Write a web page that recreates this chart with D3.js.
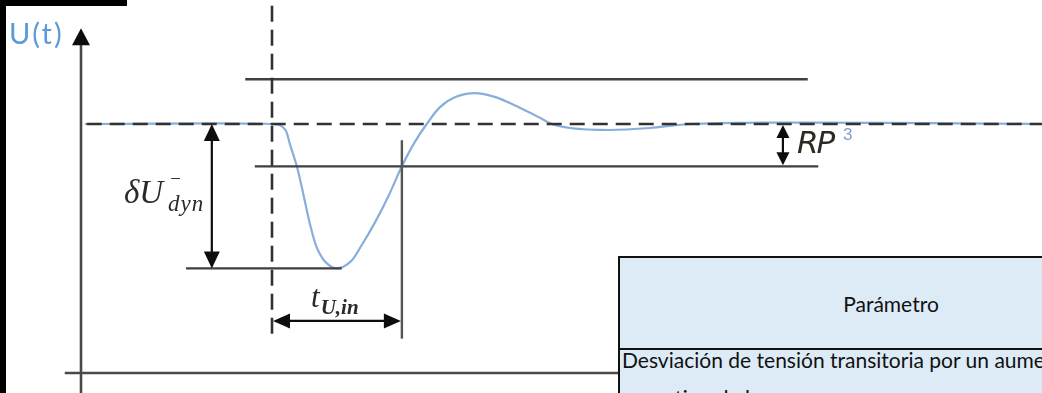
<!DOCTYPE html>
<html>
<head>
<meta charset="utf-8">
<script src="https://cdn.jsdelivr.net/npm/d3@7"></script>
<style>
  html, body { margin: 0; padding: 0; background: #fff; overflow: hidden; }
  svg { display: block; }
</style>
</head>
<body>
<svg id="chart" width="1042" height="393"></svg>
<script>
// Voltage response U(t) to a sudden load step (time in arbitrary units, U in % of nominal)
const curveT = [0.4, 20, 20.8, 21.4, 21.9, 22.6, 23.3, 24.0, 24.8, 25.8, 26.8, 28.2, 29.4, 30.8, 32.2, 33.6, 34.9, 36.2, 37.6, 39.2, 41.2, 43.4, 46.0, 48.1, 49.3, 51.2, 55.4, 59.6, 63.8, 101];
const curveU = [100, 100, 99.6, 97.6, 91.6, 83, 71.5, 59.4, 49.4, 43.8, 42, 44.6, 51.4, 60.6, 71.1, 83, 92.4, 100, 106.8, 110.8, 112.4, 110.8, 106.4, 102.4, 100, 98.4, 97.6, 98.4, 100, 100];

// Reference levels
const nominalU = 100;
const upperBandU = 118;
const lowerBandU = 83;
const minU = 42;
const stepT = 20;
const recoveryT = 33.6;

// Extents of the helper lines [t0, t1] or [U0, U1]
const nominalSpan = [0.6, 101];
const upperBandSpan = [17.2, 76.1];
const lowerBandSpan = [18.2, 77.2];
const minSpan = [11.0, 27.3];
const stepSpan = [147.5, 14.5];
const recoverySpan = [93.5, 13.8];
const yAxisSpan = [138.5, -8.5];
const xAxisSpan = [-1.7, 101];

// Dimension arrows
const dUArrowT = 13.7;
const tArrowU = 20.9;
const rpArrowT = 73.5;

// Table text
const tableHeader = ["Parámetro"];
const tableRow = ["Desviación de tensión transitoria por un aumento", "repentino de la carga"];

const svg = d3.select("#chart");
const x = d3.scaleLinear().domain([0, 100]).range([81, 1036]);
const y = d3.scaleLinear().domain([0, 100]).range([373, 124]);

const defs = svg.append("defs");
defs.append("filter").attr("id", "soft")
  .append("feGaussianBlur").attr("stdDeviation", 0.45);

const g = svg.append("g").attr("filter", "url(#soft)");

const lineCol = "#3f3f3f";

// Blue response curve (drawn first so dashed reference sits on top)
const line = d3.line().x((d, i) => x(curveT[i])).y((d, i) => y(curveU[i])).curve(d3.curveCatmullRom.alpha(0.5));
g.append("path").datum(curveU).attr("d", line)
  .attr("fill", "none").attr("stroke", "#88aedb").attr("stroke-width", 2.2);

// Axes
g.append("line").attr("x1", x(0)).attr("x2", x(0)).attr("y1", y(yAxisSpan[0]) + 14).attr("y2", y(yAxisSpan[1]))
  .attr("stroke", "#4a4a4a").attr("stroke-width", 2.6);
g.append("line").attr("x1", x(xAxisSpan[0])).attr("x2", x(xAxisSpan[1])).attr("y1", y(0)).attr("y2", y(0))
  .attr("stroke", "#4a4a4a").attr("stroke-width", 2.6);

function head(px, py, dir, len, w) {
  // filled triangle with its tip at (px,py)
  let p;
  if (dir === "up") p = [[px, py], [px - w / 2, py + len], [px + w / 2, py + len]];
  if (dir === "down") p = [[px, py], [px - w / 2, py - len], [px + w / 2, py - len]];
  if (dir === "left") p = [[px, py], [px + len, py - w / 2], [px + len, py + w / 2]];
  if (dir === "right") p = [[px, py], [px - len, py - w / 2], [px - len, py + w / 2]];
  g.append("path").attr("d", "M" + p.map(q => q.join(",")).join("L") + "Z").attr("fill", "#111");
}
head(x(0), y(yAxisSpan[0]), "up", 17, 18);

// Horizontal helper lines
function hline(u, span, w) {
  g.append("line").attr("x1", x(span[0])).attr("x2", x(span[1])).attr("y1", y(u)).attr("y2", y(u))
    .attr("stroke", lineCol).attr("stroke-width", w);
}
hline(upperBandU, upperBandSpan, 2.4);
hline(lowerBandU, lowerBandSpan, 2.4);
hline(minU, minSpan, 2.4);

// Nominal level, dashed
g.append("line").attr("x1", x(nominalSpan[0])).attr("x2", x(nominalSpan[1])).attr("y1", y(nominalU)).attr("y2", y(nominalU))
  .attr("stroke", "#333").attr("stroke-width", 2.6).attr("stroke-dasharray", "15,8");

// Load step instant, dashed vertical
g.append("line").attr("x1", x(stepT)).attr("x2", x(stepT)).attr("y1", y(stepSpan[0])).attr("y2", y(stepSpan[1]))
  .attr("stroke", "#333").attr("stroke-width", 2.6).attr("stroke-dasharray", "16,8");

// Recovery instant
g.append("line").attr("x1", x(recoveryT)).attr("x2", x(recoveryT)).attr("y1", y(recoverySpan[0])).attr("y2", y(recoverySpan[1]))
  .attr("stroke", "#555").attr("stroke-width", 2.4);

// δU arrow
g.append("line").attr("x1", x(dUArrowT)).attr("x2", x(dUArrowT)).attr("y1", y(nominalU) + 10).attr("y2", y(minU) - 10)
  .attr("stroke", "#111").attr("stroke-width", 2.2);
head(x(dUArrowT), y(nominalU), "up", 17, 16);
head(x(dUArrowT), y(minU), "down", 17, 16);

// t arrow
g.append("line").attr("x1", x(stepT) + 10).attr("x2", x(recoveryT) - 10).attr("y1", y(tArrowU)).attr("y2", y(tArrowU))
  .attr("stroke", "#111").attr("stroke-width", 2.2);
head(x(stepT) + 1, y(tArrowU), "left", 17, 15);
head(x(recoveryT) - 1, y(tArrowU), "right", 17, 15);

// RP arrow
g.append("line").attr("x1", x(rpArrowT)).attr("x2", x(rpArrowT)).attr("y1", y(nominalU) + 6).attr("y2", y(lowerBandU) - 6)
  .attr("stroke", "#111").attr("stroke-width", 2.2);
head(x(rpArrowT), y(nominalU) + 1, "up", 13, 13);
head(x(rpArrowT), y(lowerBandU) - 1, "down", 13, 13);

// Labels
g.append("text").attr("x", 9).attr("y", 44).attr("fill", "#5b9bd5").attr("letter-spacing", 2)
  .style("font-family", "Lato, 'Open Sans', sans-serif").style("font-size", "29px").text("U(t)");

const mathFont = "'Liberation Serif', 'DejaVu Serif', serif";
const dU = g.append("text").attr("x", 124).attr("y", 203).attr("fill", "#2b2b2b")
  .style("font-family", mathFont).style("font-style", "italic").style("font-size", "33px");
dU.append("tspan").text("δU");
dU.append("tspan").attr("x", 169).attr("y", 185).style("font-size", "19px").text("−");
dU.append("tspan").attr("x", 168).attr("y", 211).style("font-size", "23px").attr("letter-spacing", 1).text("dyn");

const tl = g.append("text").attr("x", 311).attr("y", 307).attr("fill", "#2b2b2b")
  .style("font-family", mathFont).style("font-style", "italic").style("font-size", "31px");
tl.append("tspan").text("t");
tl.append("tspan").attr("dx", 1).attr("y", 314).style("font-size", "21px").style("font-weight", "bold").text("U,in");

const rp = g.append("text").attr("x", 797).attr("y", 153).attr("fill", "#2e2a22")
  .style("font-family", "'DejaVu Sans', sans-serif").style("font-style", "italic").style("font-size", "31px");
rp.append("tspan").attr("letter-spacing", -2).text("RP");
g.append("text").attr("x", 843).attr("y", 140).attr("fill", "#7f9fc8")
  .style("font-family", "'Liberation Sans', sans-serif").style("font-size", "17px").text("3");

// Table
const tbl = svg.append("g");
tbl.append("rect").attr("x", 619).attr("y", 257).attr("width", 440).attr("height", 150)
  .attr("fill", "#ddebf7").attr("stroke", "#111").attr("stroke-width", 2);
tbl.append("line").attr("x1", 619).attr("x2", 1042).attr("y1", 349).attr("y2", 349)
  .attr("stroke", "#111").attr("stroke-width", 2);
const tFont = "Lato, 'Open Sans', sans-serif";

// size the cell font so the first row reaches "…por un aum" at the right edge
const probe = tbl.append("text").style("font-family", tFont).style("font-size", "20px")
  .text("Desviación de tensión transitoria por un aum");
const probeW = probe.node().getComputedTextLength();
probe.remove();
const cellSize = Math.max(14, Math.min(26, 20 * 412 / probeW));

tbl.append("text").attr("x", 891).attr("y", 312).attr("text-anchor", "middle").attr("fill", "#111")
  .style("font-family", tFont).style("font-size", cellSize + "px").text(tableHeader[0]);
tbl.selectAll("text.row").data(tableRow).join("text").attr("class", "row")
  .attr("x", 622).attr("y", (d, i) => 368 + i * 38).attr("fill", "#111")
  .style("font-family", tFont).style("font-size", cellSize + "px").text(d => d);

// Frame strips
svg.append("rect").attr("x", 0).attr("y", 0).attr("width", 127).attr("height", 6).attr("fill", "#000");
svg.append("rect").attr("x", 0).attr("y", 0).attr("width", 6).attr("height", 393).attr("fill", "#000");
</script>
</body>
</html>
